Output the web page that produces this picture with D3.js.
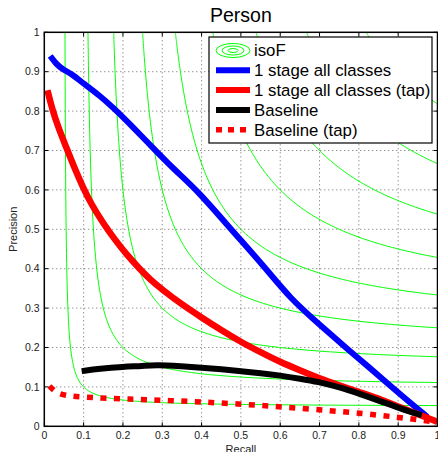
<!DOCTYPE html>
<html><head><meta charset="utf-8">
<script src="https://cdn.jsdelivr.net/npm/d3@7"></script>
<style>
html,body{margin:0;padding:0;background:#fff;}
svg{display:block;font-family:"Liberation Sans",Arial,Helvetica,sans-serif;}
</style></head>
<body><svg id="chart" width="438" height="452"></svg>
<script>
const title = "Person";
const xLabel = "Recall";
const yLabel = "Precision";
const tickValues = [0,0.1,0.2,0.3,0.4,0.5,0.6,0.7,0.8,0.9,1];
const tickLabels = ["0","0.1","0.2","0.3","0.4","0.5","0.6","0.7","0.8","0.9","1"];
const isoFValues = [0.1,0.2,0.3,0.4,0.5,0.6,0.7,0.8,0.9];
const seriesNames = ["isoF","1 stage all classes","1 stage all classes (tap)","Baseline","Baseline (tap)"];

const oneStage = [[0.015,0.94],[0.03,0.92],[0.045,0.907],[0.072,0.893],[0.098,0.871],[0.14,0.84],[0.174,0.81],[0.22,0.765],[0.278,0.705],[0.33,0.652],[0.39,0.598],[0.475,0.5],[0.564,0.4],[0.625,0.325],[0.7,0.258],[0.77,0.197],[0.82,0.155],[0.906,0.08],[0.974,0.024]];
const oneStageTap = [[0.008,0.853],[0.02,0.805],[0.035,0.76],[0.055,0.71],[0.075,0.66],[0.098,0.607],[0.12,0.563],[0.15,0.515],[0.18,0.473],[0.21,0.435],[0.242,0.4],[0.27,0.372],[0.3,0.347],[0.35,0.309],[0.4,0.276],[0.45,0.244],[0.5,0.214],[0.55,0.188],[0.6,0.163],[0.65,0.142],[0.7,0.121],[0.75,0.104],[0.8,0.087],[0.863,0.066],[0.9,0.05],[0.948,0.032],[1.0,0.011]];
const baseline = [[0.095,0.14],[0.14,0.146],[0.2,0.151],[0.25,0.153],[0.285,0.156],[0.35,0.152],[0.4,0.149],[0.45,0.145],[0.5,0.14],[0.55,0.135],[0.6,0.129],[0.65,0.121],[0.7,0.112],[0.735,0.103],[0.78,0.09],[0.82,0.076],[0.86,0.062],[0.906,0.045],[0.96,0.028]];
const baselineTap = [[0.013,0.102],[0.025,0.09],[0.038,0.082],[0.068,0.076],[0.104,0.074],[0.14,0.072],[0.207,0.069],[0.31,0.066],[0.48,0.058],[0.65,0.046],[0.82,0.032],[0.923,0.02],[0.995,0.011]];

const svg = d3.select("#chart");
const L = 44.3, R = 437.5, T = 32.3, B = 426.3;
const x = d3.scaleLinear().domain([0,1]).range([L,R]);
const y = d3.scaleLinear().domain([0,1]).range([B,T]);

svg.append("defs").append("clipPath").attr("id","clip")
  .append("rect").attr("x",L).attr("y",T).attr("width",R-L).attr("height",B-T);

svg.append("rect").attr("x",L).attr("y",T).attr("width",R-L).attr("height",B-T).attr("fill","#fff");

// grid
const grid = svg.append("g");
tickValues.slice(1,-1).forEach(v=>{
  grid.append("line").attr("x1",x(v)).attr("x2",x(v)).attr("y1",T).attr("y2",B)
    .attr("stroke","#666").attr("stroke-width",1).attr("stroke-dasharray","1,3");
  grid.append("line").attr("y1",y(v)).attr("y2",y(v)).attr("x1",L).attr("x2",R)
    .attr("stroke","#666").attr("stroke-width",1).attr("stroke-dasharray","1,3");
});

const plot = svg.append("g").attr("clip-path","url(#clip)");
const line = d3.line().x(d=>x(d[0])).y(d=>y(d[1])).curve(d3.curveBasis);

// isoF curves: F = 2pr/(p+r)
isoFValues.forEach(F=>{
  const r0 = F/(2-F);
  const pts = d3.range(0,201).map(i=>{
    const r = r0 + (1-r0)*Math.pow(i/200,2.5);
    return [r, F*r/(2*r-F)];
  });
  plot.append("path").attr("d", d3.line().x(d=>x(d[0])).y(d=>y(d[1]))(pts))
    .attr("fill","none").attr("stroke","#00ff00").attr("stroke-width",1);
});

plot.append("path").attr("d",line(oneStage)).attr("fill","none").attr("stroke","#0000ff").attr("stroke-width",6).attr("stroke-linejoin","round");
plot.append("path").attr("d",line(oneStageTap)).attr("fill","none").attr("stroke","#ff0000").attr("stroke-width",6.5).attr("stroke-linejoin","round");
plot.append("path").attr("d",line(baseline)).attr("fill","none").attr("stroke","#000").attr("stroke-width",6).attr("stroke-linejoin","round");
plot.append("path").attr("d",line(baselineTap)).attr("fill","none").attr("stroke","#ff0000").attr("stroke-width",5.5).attr("stroke-dasharray","6,7.5");

// frame and ticks
const axes = svg.append("g");
axes.append("rect").attr("x",L).attr("y",T).attr("width",R-L).attr("height",B-T)
  .attr("fill","none").attr("stroke","#000").attr("stroke-width",1.5);
const tl = 4;
tickValues.forEach((v,i)=>{
  axes.append("line").attr("x1",x(v)).attr("x2",x(v)).attr("y1",B).attr("y2",B-tl).attr("stroke","#000");
  axes.append("line").attr("x1",x(v)).attr("x2",x(v)).attr("y1",T).attr("y2",T+tl).attr("stroke","#000");
  axes.append("line").attr("y1",y(v)).attr("y2",y(v)).attr("x1",L).attr("x2",L+tl).attr("stroke","#000");
  axes.append("line").attr("y1",y(v)).attr("y2",y(v)).attr("x1",R).attr("x2",R-tl).attr("stroke","#000");
  axes.append("text").attr("x",x(v)).attr("y",439).attr("text-anchor","middle")
    .attr("font-size",10.5).attr("fill","#222").text(tickLabels[i]);
  axes.append("text").attr("x",39.5).attr("y",y(v)+3.6).attr("text-anchor","end")
    .attr("font-size",10.5).attr("fill","#222").text(tickLabels[i]);
});

svg.append("text").attr("x",(L+R)/2).attr("y",22).attr("text-anchor","middle")
  .attr("font-size",19.5).attr("fill","#000").text(title);
svg.append("text").attr("x",(L+R)/2).attr("y",453).attr("text-anchor","middle")
  .attr("font-size",11).attr("fill","#222").text(xLabel);
svg.append("text").attr("transform",`translate(17.3,${(T+B)/2}) rotate(-90)`).attr("text-anchor","middle")
  .attr("font-size",11).attr("fill","#222").text(yLabel);

// legend
const lg = svg.append("g");
lg.append("rect").attr("x",209).attr("y",37).attr("width",223).attr("height",106)
  .attr("fill","#fff").attr("stroke","#000").attr("stroke-width",1.2);
const rowY = i => 50.5 + i*19.8;
const lx1 = 216, lx2 = 250, tx = 254;
[[17,7],[11,4.5],[5,2]].forEach(e=>{
  lg.append("ellipse").attr("cx",(lx1+lx2)/2).attr("cy",rowY(0)).attr("rx",e[0]).attr("ry",e[1])
    .attr("fill","none").attr("stroke","#00ff00").attr("stroke-width",1);
});
const styles = [
  null,
  {c:"#0000ff",w:6,d:null},
  {c:"#ff0000",w:6,d:null},
  {c:"#000",w:6,d:null},
  {c:"#ff0000",w:5.5,d:"6,6"}
];
styles.forEach((s,i)=>{
  if(!s) return;
  const l = lg.append("line").attr("x1",lx1).attr("x2",lx2).attr("y1",rowY(i)).attr("y2",rowY(i))
    .attr("stroke",s.c).attr("stroke-width",s.w);
  if(s.d) l.attr("stroke-dasharray",s.d);
});
seriesNames.forEach((n,i)=>{
  lg.append("text").attr("x",tx).attr("y",rowY(i)+5.8).attr("font-size",16.8).attr("fill","#000").text(n);
});
</script></body></html>
